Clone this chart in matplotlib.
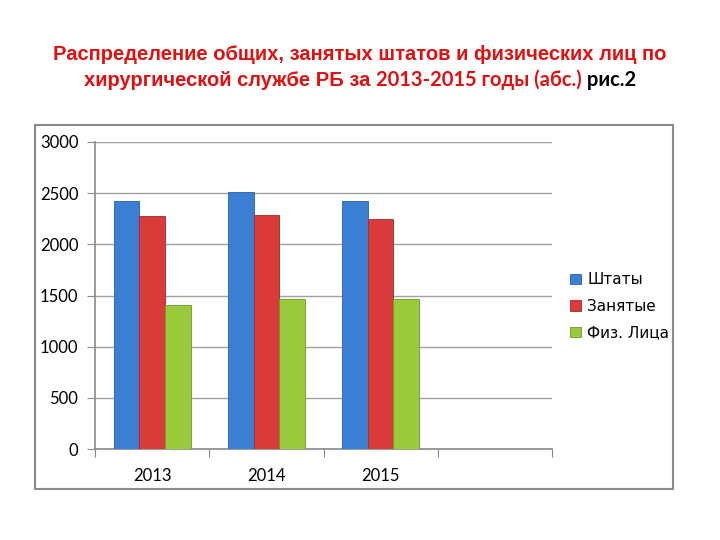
import matplotlib
matplotlib.use("Agg")
import matplotlib.pyplot as plt
import numpy as np
from matplotlib.patches import Rectangle
from matplotlib.offsetbox import TextArea, HPacker, AnchoredOffsetbox

# данные
years = ["2013", "2014", "2015"]
shtaty = [2420, 2510, 2420]
zanyatye = [2280, 2290, 2245]
fiz_litsa = [1405, 1465, 1465]
series_names = ["Штаты", "Занятые", "Физ. Лица"]
colors = ["#3a7fd3", "#d93a3a", "#9bcb3c"]
edges = ["#2a5fa8", "#a82828", "#6f9a22"]

fig = plt.figure(figsize=(7.2, 5.4), dpi=100)

# рамка диаграммы
fig.patches.append(Rectangle((35 / 720, 1 - 489 / 540), 638 / 720, 364 / 540,
                             transform=fig.transFigure, fill=False,
                             edgecolor="#8a8a8a", lw=1.5))

ax = fig.add_axes([95 / 720, 1 - 449 / 540, 457 / 720, 307 / 540])

w = 0.225
x = np.arange(len(years)) + 0.5
all_vals = [shtaty, zanyatye, fiz_litsa]
for i, vals in enumerate(all_vals):
    ax.bar(x + (i - 1) * w, vals, width=w, color=colors[i], edgecolor=edges[i],
           linewidth=0.6, label=series_names[i], zorder=3)

ax.set_xlim(0, 4)
ax.set_ylim(0, 3000)
ax.set_yticks(np.arange(0, 3001, 500))
ax.set_xticks(np.arange(0, 5))
ax.set_xticklabels([])
ax.set_xticks(x, minor=True)
ax.set_xticklabels(years, minor=True, fontsize=12, family="Lato")
ax.tick_params(axis="x", which="minor", length=0, pad=14)
ax.tick_params(axis="x", which="major", length=6, color="#8a8a8a")
ax.tick_params(axis="y", length=6, color="#8a8a8a", labelsize=12, pad=6)
for lab in ax.get_yticklabels():
    lab.set_family("Lato")
ax.grid(axis="y", color="#a0a0a0", lw=1, zorder=0)
for s in ["top", "right"]:
    ax.spines[s].set_visible(False)
for s in ["left", "bottom"]:
    ax.spines[s].set_color("#8a8a8a")
    ax.spines[s].set_linewidth(1.2)

leg = ax.legend(loc="center left", bbox_to_anchor=(1.01, 0.465), frameon=False,
                fontsize=11, handlelength=0.7, handleheight=0.7,
                handletextpad=0.4, labelspacing=0.75)

# заголовок
red = "#e01010"
fs = 14.5
fig.text(0.5, 1 - 55 / 540, "Распределение общих, занятых штатов и физических лиц по",
         ha="center", va="center", color=red, fontsize=fs, fontweight="bold",
         family="Liberation Sans")
parts = [
    TextArea("хирургической службе РБ за ",
             textprops=dict(color=red, fontsize=fs, fontweight="bold", family="Liberation Sans")),
    TextArea("2013-2015 годы (абс.)",
             textprops=dict(color=red, fontsize=fs, fontweight="bold", family="Lato")),
    TextArea(" рис.2",
             textprops=dict(color="black", fontsize=fs, fontweight="bold", family="Lato")),
]
box = HPacker(children=parts, align="baseline", pad=0, sep=0)
anch = AnchoredOffsetbox(loc="center", child=box, frameon=False,
                         bbox_to_anchor=(0.5, 1 - 80 / 540),
                         bbox_transform=fig.transFigure, borderpad=0, pad=0)
fig.add_artist(anch)

fig.savefig("out.png", dpi=100)
